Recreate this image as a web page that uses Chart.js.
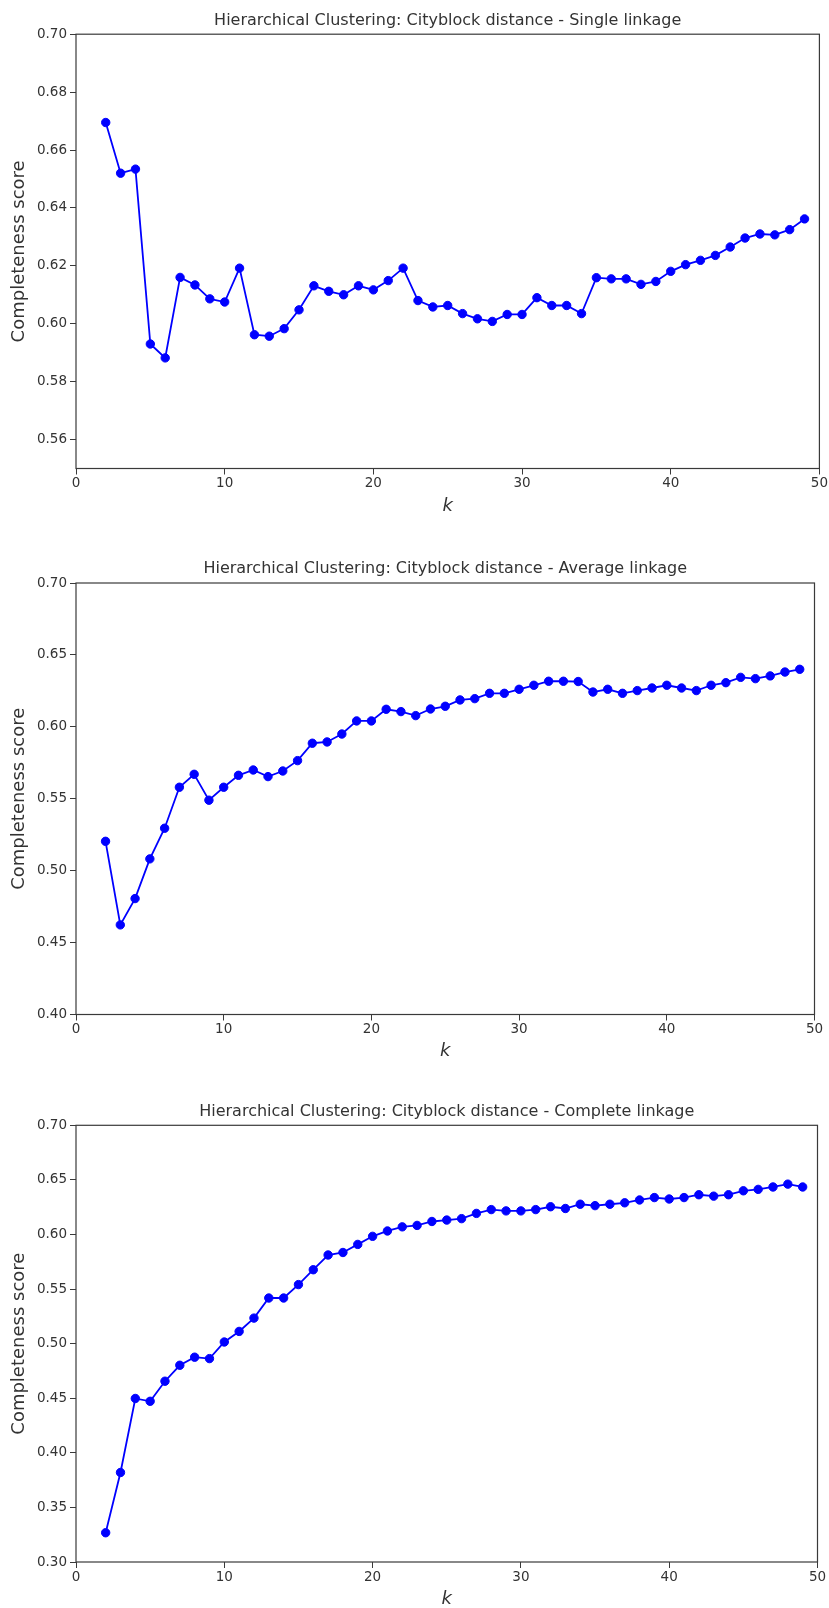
<!DOCTYPE html>
<html>
<head>
<meta charset="utf-8">
<script src="https://cdn.jsdelivr.net/npm/chart.js@4.4.1/dist/chart.umd.min.js"></script>
<style>
  html, body { margin: 0; padding: 0; background: #fff; }
  #wrap { position: relative; width: 829px; height: 1608px; overflow: hidden; }
  canvas { position: absolute; left: 0; }
</style>
</head>
<body>
<div id="wrap">
  <canvas id="c1" width="829" height="525" style="top:0px"></canvas>
  <canvas id="c2" width="829" height="545" style="top:525px"></canvas>
  <canvas id="c3" width="829" height="538" style="top:1070px"></canvas>
</div>
<script>
// k = number of clusters
const kValues = [2, 3, 4, 5, 6, 7, 8, 9, 10, 11, 12, 13, 14, 15, 16, 17, 18, 19, 20, 21, 22, 23, 24, 25,
                 26, 27, 28, 29, 30, 31, 32, 33, 34, 35, 36, 37, 38, 39, 40, 41, 42, 43, 44, 45, 46, 47, 48, 49];

// completeness score por tipo de linkage
const singleScores = [0.6695, 0.6520, 0.6534, 0.5930, 0.5882, 0.6160, 0.6134, 0.6086, 0.6075, 0.6192,
                      0.5962, 0.5957, 0.5983, 0.6048, 0.6131, 0.6112, 0.6100, 0.6131, 0.6117, 0.6149,
                      0.6192, 0.6080, 0.6058, 0.6063, 0.6035, 0.6017, 0.6008, 0.6032, 0.6032, 0.6090,
                      0.6063, 0.6063, 0.6035, 0.6159, 0.6155, 0.6155, 0.6136, 0.6146, 0.6181, 0.6204,
                      0.6219, 0.6236, 0.6265, 0.6296, 0.6310, 0.6307, 0.6325, 0.6362];

const averageScores = [0.5204, 0.4623, 0.4806, 0.5082, 0.5295, 0.5580, 0.5670, 0.5490, 0.5580, 0.5663,
                       0.5700, 0.5654, 0.5693, 0.5765, 0.5886, 0.5895, 0.5950, 0.6041, 0.6041, 0.6122,
                       0.6106, 0.6078, 0.6124, 0.6143, 0.6187, 0.6196, 0.6233, 0.6233, 0.6261, 0.6289,
                       0.6317, 0.6317, 0.6315, 0.6242, 0.6261, 0.6233, 0.6252, 0.6270, 0.6289, 0.6270,
                       0.6252, 0.6289, 0.6307, 0.6344, 0.6335, 0.6354, 0.6381, 0.6400];

const completeScores = [0.3268, 0.3820, 0.4498, 0.4472, 0.4656, 0.4802, 0.4876, 0.4863, 0.5015, 0.5112,
                        0.5234, 0.5418, 0.5418, 0.5541, 0.5677, 0.5812, 0.5835, 0.5909, 0.5983, 0.6032,
                        0.6070, 0.6083, 0.6119, 0.6132, 0.6145, 0.6193, 0.6228, 0.6216, 0.6216, 0.6228,
                        0.6254, 0.6238, 0.6277, 0.6264, 0.6277, 0.6290, 0.6316, 0.6338, 0.6325, 0.6338,
                        0.6364, 0.6351, 0.6364, 0.6400, 0.6413, 0.6435, 0.6461, 0.6435];

// ticks
const xTicks = [0, 10, 20, 30, 40, 50];
const yTicksSingle = [0.56, 0.58, 0.60, 0.62, 0.64, 0.66, 0.68, 0.70];
const yTicksAverage = [0.40, 0.45, 0.50, 0.55, 0.60, 0.65, 0.70];
const yTicksComplete = [0.30, 0.35, 0.40, 0.45, 0.50, 0.55, 0.60, 0.65, 0.70];

const titles = [
    'Hierarchical Clustering: Cityblock distance - Single linkage',
    'Hierarchical Clustering: Cityblock distance - Average linkage',
    'Hierarchical Clustering: Cityblock distance - Complete linkage'
];

const FONT = "'DejaVu Sans', sans-serif";
const TEXT_COLOR = '#333333';
const AXIS_COLOR = '#3a3a3a';

// dibuja el marco completo (spines) alrededor del area del grafico
const framePlugin = {
    id: 'frame',
    afterDraw(chart) {
        const a = chart.chartArea;
        const ctx = chart.ctx;
        ctx.save();
        ctx.strokeStyle = AXIS_COLOR;
        ctx.lineWidth = 1.2;
        ctx.strokeRect(a.left, a.top, a.right - a.left, a.bottom - a.top);
        ctx.restore();
    }
};

function crearGrafico(id, titulo, scores, yTicks, yMin, yMax, lay) {
    const ctx = document.getElementById(id).getContext('2d');
    return new Chart(ctx, {
        type: 'line',
        data: {
            datasets: [{
                data: kValues.map((k, i) => ({ x: k, y: scores[i] })),
                borderColor: '#0000ff',
                backgroundColor: '#0000ff',
                borderWidth: 1.8,
                pointRadius: 4.2,
                pointBorderWidth: 1,
                pointBackgroundColor: '#0000ff',
                pointBorderColor: '#0000ff',
                tension: 0,
                clip: false
            }]
        },
        options: {
            responsive: false,
            animation: false,
            devicePixelRatio: 1,
            layout: {
                padding: { left: 0, right: lay.padRight, top: 0, bottom: 0 }
            },
            plugins: {
                legend: { display: false },
                tooltip: { enabled: false },
                title: {
                    display: true,
                    text: titulo,
                    fullSize: false,
                    color: TEXT_COLOR,
                    font: { family: FONT, size: 16, weight: 'normal', lineHeight: 1.2 },
                    padding: { top: lay.titleTop, bottom: lay.titleBottom }
                }
            },
            scales: {
                x: {
                    type: 'linear',
                    min: 0,
                    max: 50,
                    afterBuildTicks: (axis) => { axis.ticks = xTicks.map(v => ({ value: v })); },
                    afterFit: (axis) => { axis.height = lay.xHeight; },
                    grid: { display: true, drawOnChartArea: false, drawTicks: true, tickLength: 6, color: AXIS_COLOR, lineWidth: 1 },
                    border: { display: false },
                    ticks: {
                        color: TEXT_COLOR,
                        padding: 1,
                        maxRotation: 0,
                        font: { family: FONT, size: 13.5 },
                        callback: (v) => String(v)
                    },
                    title: {
                        display: true,
                        text: 'k',
                        color: TEXT_COLOR,
                        font: { family: FONT, size: 18, style: 'italic', lineHeight: 1 },
                        padding: { top: 0, bottom: lay.kBottom }
                    }
                },
                y: {
                    type: 'linear',
                    min: yMin,
                    max: yMax,
                    afterBuildTicks: (axis) => { axis.ticks = yTicks.map(v => ({ value: v })); },
                    afterFit: (axis) => { axis.width = 76; },
                    grid: { display: true, drawOnChartArea: false, drawTicks: true, tickLength: 6, color: AXIS_COLOR, lineWidth: 1 },
                    border: { display: false },
                    ticks: {
                        color: TEXT_COLOR,
                        padding: 3,
                        font: { family: FONT, size: 13.5 },
                        callback: (v) => Number(v).toFixed(2)
                    },
                    title: {
                        display: true,
                        text: 'Completeness score',
                        color: TEXT_COLOR,
                        font: { family: FONT, size: 18, lineHeight: 1.2 },
                        padding: { top: 9, bottom: 0 }
                    }
                }
            }
        },
        plugins: [framePlugin]
    });
}

crearGrafico('c1', titles[0], singleScores, yTicksSingle, 0.55, 0.70,
    { padRight: 9, titleTop: 11, titleBottom: 4, xHeight: 56.5, kBottom: 9.3 });
crearGrafico('c2', titles[1], averageScores, yTicksAverage, 0.40, 0.70,
    { padRight: 14.5, titleTop: 34.7, titleBottom: 4.1, xHeight: 55.5, kBottom: 9.3 });
crearGrafico('c3', titles[2], completeScores, yTicksComplete, 0.30, 0.70,
    { padRight: 11.5, titleTop: 32.1, titleBottom: 4, xHeight: 46, kBottom: 0 });
</script>
</body>
</html>
